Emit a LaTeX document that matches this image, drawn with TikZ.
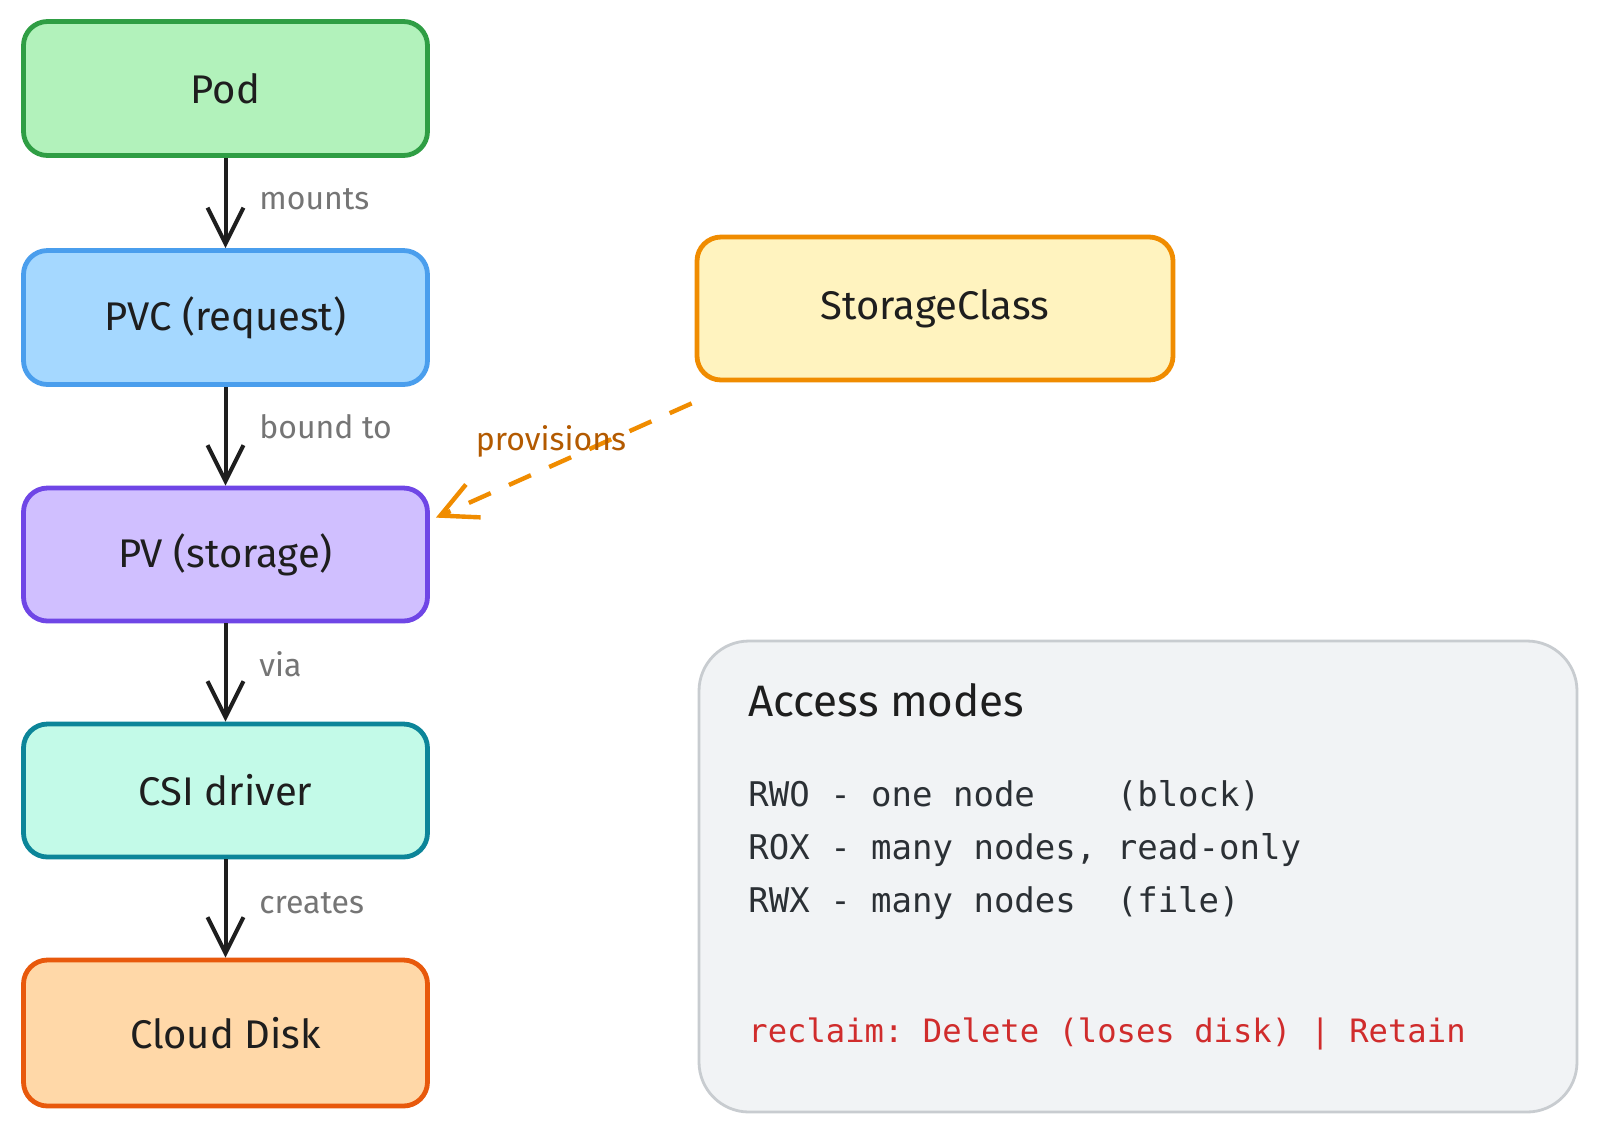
\documentclass[tikz,border=0pt]{standalone}
\usepackage{fontspec}
\setmainfont{Fira Sans}
\setmonofont{DejaVu Sans Mono}
\usetikzlibrary{arrows.meta,calc}
\definecolor{ink}{HTML}{1E1E1E}
\definecolor{podfill}{HTML}{B2F2BB}\definecolor{podline}{HTML}{2F9E44}
\definecolor{pvcfill}{HTML}{A5D8FF}\definecolor{pvcline}{HTML}{4A9EED}
\definecolor{pvfill}{HTML}{D0BFFF}\definecolor{pvline}{HTML}{6F46E6}
\definecolor{csifill}{HTML}{C3FAE8}\definecolor{csiline}{HTML}{0C8599}
\definecolor{diskfill}{HTML}{FFD8A8}\definecolor{diskline}{HTML}{E8590C}
\definecolor{scfill}{HTML}{FFF3BF}\definecolor{scline}{HTML}{F08C00}
\definecolor{accfill}{HTML}{F1F3F5}\definecolor{accline}{HTML}{C8CCD0}
\definecolor{lblgray}{HTML}{757575}
\definecolor{provcol}{HTML}{B35A00}
\definecolor{monoink}{HTML}{2B3035}
\definecolor{reclaimred}{HTML}{D02C2C}
\begin{document}
\begin{tikzpicture}[x=0.5pt,y=-0.5pt,
  box/.style={draw, line width=2.4pt, rounded corners=12pt, minimum width=202pt,
    minimum height=67pt, font=\fontsize{20}{24}\selectfont, text=ink},
  flow/.style={draw=ink, line width=2pt,
    -{Straight Barb[length=18pt,width=18pt,line width=2pt]}},
  lbl/.style={anchor=west, font=\fontsize{16}{19}\selectfont, text=lblgray, inner sep=0pt},
  mono/.style={anchor=west, inner sep=0pt, font=\ttfamily\fontsize{17}{20}\selectfont, text=monoink},
]
\useasboundingbox[fill=white] (0,0) rectangle (1600,1137);

% left column
\node[box, fill=podfill, draw=podline] (pod) at (225.5,88.5) {Pod};
\node[box, fill=pvcfill, draw=pvcline] (pvc) at (225.5,317.5) {PVC (request)};
\node[box, fill=pvfill, draw=pvline, minimum height=66.5pt] (pv) at (225.5,554.5) {PV (storage)};
\node[box, fill=csifill, draw=csiline, minimum height=66.5pt] (csi) at (225.5,790.5) {CSI driver};
\node[box, fill=diskfill, draw=diskline, minimum height=73pt] (disk) at (225.5,1033) {Cloud Disk};

% storage class
\node[box, fill=scfill, draw=scline, minimum width=238pt, minimum height=71.5pt] (sc) at (935,308.5) {StorageClass};

% flow arrows
\draw[flow] (pod.south) -- (pvc.north);
\draw[flow] (pvc.south) -- (pv.north);
\draw[flow] (pv.south) -- (csi.north);
\draw[flow] (csi.south) -- (disk.north);

\node[lbl] (lmounts) at (259,199) {mounts};
\node[lbl] (lbound) at (259,427) {bound to};
\node[lbl] (lvia) at (259,664) {via};
\node[lbl] (lcreates) at (259,903) {creates};

% provisions
\coordinate (provstart) at ($(sc.south west)+(-3,21)$);
\coordinate (provend) at ($(pv.north east)+(6,32)$);
\draw[draw=scline, line width=2.2pt, dash pattern=on 12pt off 10pt,
  -{Straight Barb[length=18pt,width=18pt,line width=2.2pt]}] (provstart) -- (provend);
\node[font=\fontsize{16}{19}\selectfont, text=provcol, inner sep=0pt] (lprov) at (551,441) {provisions};

% access modes box
\node[draw=accline, fill=accfill, line width=1.4pt, rounded corners=25pt,
  minimum width=439pt, minimum height=235.5pt] (acc) at (1138,876.5) {};
\node[anchor=west, inner sep=0pt, font=\fontsize{22}{26}\selectfont, text=ink] (acctitle) at (748,700) {Access modes};
\node[mono] (rwo) at (748,796) {RWO - one node\ \ \ \ (block)};
\node[mono] (rox) at (748,850) {ROX - many nodes, read-only};
\node[mono] (rwx) at (748,903) {RWX - many nodes\ \ (file)};
\node[mono, font=\ttfamily\fontsize{16.1}{20}\selectfont, text=reclaimred] (reclaim) at (748,1034) {reclaim: Delete (loses disk) | Retain};
\end{tikzpicture}
\end{document}
